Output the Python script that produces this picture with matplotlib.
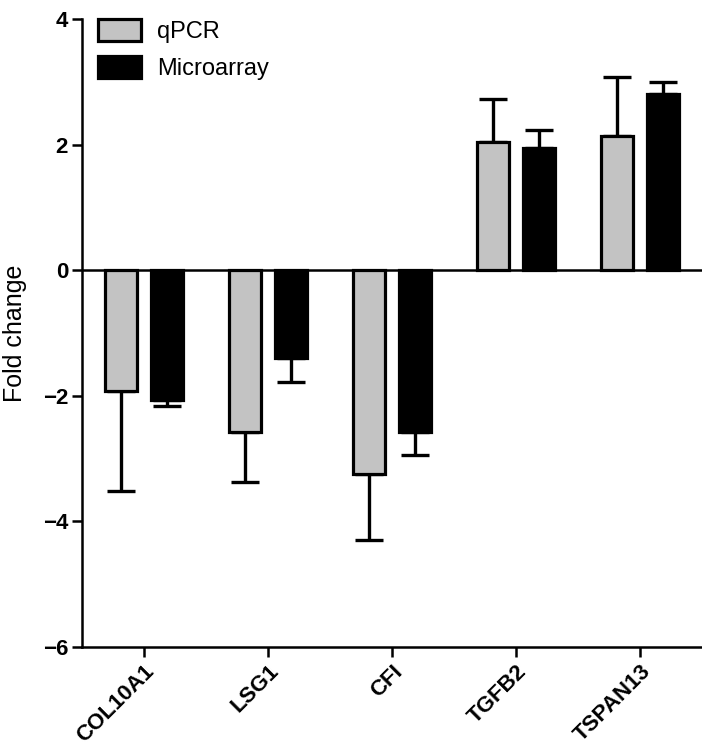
import numpy as np
import matplotlib.pyplot as plt
from matplotlib.patches import Patch

plt.rcParams['font.family'] = ['Liberation Sans', 'DejaVu Sans']

genes = ['COL10A1', 'LSG1', 'CFI', 'TGFB2', 'TSPAN13']
qpcr = [-1.92, -2.57, -3.25, 2.04, 2.13]
qpcr_err = [1.59, 0.81, 1.04, 0.68, 0.95]
micro = [-2.07, -1.40, -2.57, 1.94, 2.80]
micro_err = [0.10, 0.38, 0.38, 0.29, 0.20]
yticks = [-6, -4, -2, 0, 2, 4]

fig = plt.figure(figsize=(7.02, 7.5), dpi=100)
ax = fig.add_axes([0.1168, 0.1373, 0.8832, 0.8374])

x = np.arange(len(genes))
off = 0.185
w = 0.26


def one_sided(vals, errs):
    # error bars only point away from zero
    vals = np.array(vals)
    errs = np.array(errs)
    lower = np.where(vals < 0, errs, 0)
    upper = np.where(vals >= 0, errs, 0)
    return [lower, upper]


ax.errorbar(x - off, qpcr, yerr=one_sided(qpcr, qpcr_err), fmt='none', ecolor='black',
            elinewidth=2.4, capsize=10, capthick=2.4, zorder=1)
ax.errorbar(x + off, micro, yerr=one_sided(micro, micro_err), fmt='none', ecolor='black',
            elinewidth=2.4, capsize=10, capthick=2.4, zorder=1)
ax.bar(x - off, qpcr, w, color='#c3c3c3', edgecolor='black', linewidth=2.3, zorder=2)
ax.bar(x + off, micro, w, color='black', edgecolor='black', linewidth=2.3, zorder=2)

ax.axhline(0, color='black', lw=1.8, zorder=3)

ax.set_xlim(-0.5, 4.5)
ax.set_ylim(-6, 4)
ax.set_yticks(yticks)
ax.set_yticklabels([str(t).replace('-', '\u2212') for t in yticks], fontweight='bold', fontsize=16)
ax.set_xticks(x)
ax.set_xticklabels(genes, rotation=45, ha='right', rotation_mode='anchor',
                   fontweight='bold', fontsize=16)
ax.set_ylabel('Fold change', fontsize=18)
ax.yaxis.set_label_coords(-0.088, 0.5)

for s in ['top', 'right']:
    ax.spines[s].set_visible(False)
for s in ['left', 'bottom']:
    ax.spines[s].set_linewidth(1.8)
ax.tick_params(direction='out', length=7, width=1.8, pad=3)

handles = [Patch(facecolor='#c3c3c3', edgecolor='black', linewidth=2.3, label='qPCR'),
           Patch(facecolor='black', edgecolor='black', linewidth=2.3, label='Microarray')]
ax.legend(handles=handles, loc='upper left', bbox_to_anchor=(0.026, 1.0), frameon=False,
          fontsize=17, borderpad=0, borderaxespad=0, handlelength=1.8, handleheight=1.05,
          labelspacing=0.55, handletextpad=0.7)

fig.savefig('out.png', dpi=100)
